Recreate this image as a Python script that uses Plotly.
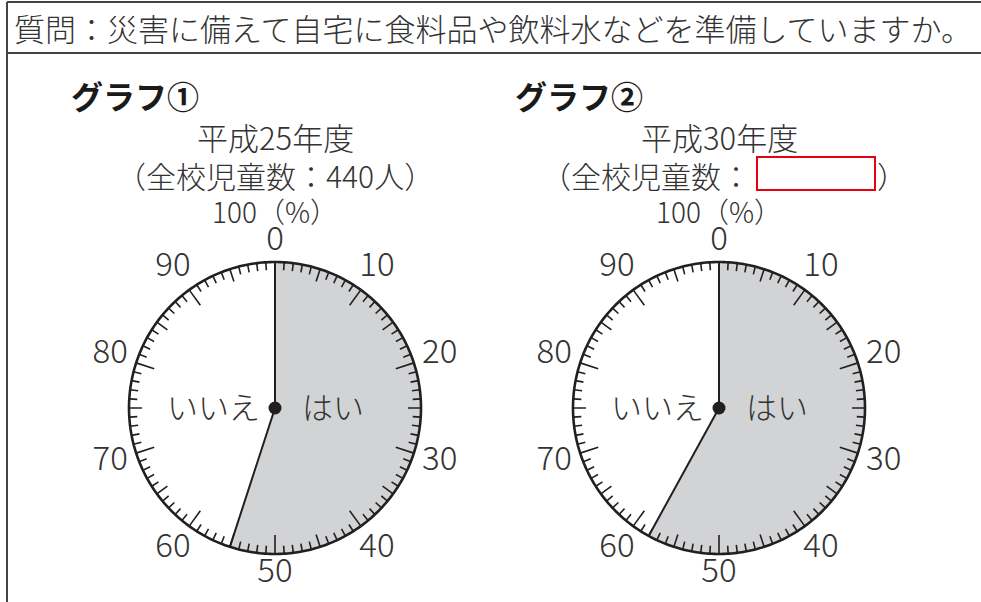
import numpy as np
import plotly.graph_objects as go

# ---- data ----
question = "質問：災害に備えて自宅に食料品や飲料水などを準備していますか。"
graph_titles = ["グラフ①", "グラフ②"]
year_labels = ["平成25年度", "平成30年度"]
student_counts = ["440人", ""]          # second one is the blank to fill in
yes_percent = [55, 58]                   # はい share (%)
slice_labels = ["はい", "いいえ"]
scale_values = list(range(0, 100, 10))
scale_labels = [str(v) for v in scale_values]
scale_top_label = "100（%）"

# ---- layout constants ----
W, H = 981, 602
R = 146
RMAX = 1.3
centers = [(275, 408), (719, 408)]
FONT = "Noto Sans CJK JP"
TXT = "#333333"
INK = "#231f20"
GRAY = "#d1d3d4"


def px(x):
    return x / W


def py(y):
    return 1 - y / H


fig = go.Figure()
annotations = []
shapes = []

for i, (cx, cy) in enumerate(centers):
    sp = "polar" if i == 0 else f"polar{i+1}"
    p = yes_percent[i]
    ang = p * 3.6
    # はい wedge
    fig.add_trace(go.Barpolar(r=[1], theta=[ang / 2], width=[ang], base=0,
                              marker=dict(color=GRAY, line=dict(width=0)),
                              subplot=sp, hoverinfo="skip", showlegend=False))
    # scale ticks
    tr, tt = [], []
    for k in range(100):
        L = 19 if k % 10 == 0 else (13 if k % 5 == 0 else 8)
        tr += [1, 1 - L / R, None]
        tt += [k * 3.6, k * 3.6, None]
    fig.add_trace(go.Scatterpolar(r=tr, theta=tt, mode="lines",
                                  line=dict(color=INK, width=1.6),
                                  subplot=sp, hoverinfo="skip", showlegend=False))
    # outer circle
    circ = np.linspace(0, 360, 361)
    fig.add_trace(go.Scatterpolar(r=np.ones_like(circ), theta=circ, mode="lines",
                                  line=dict(color=INK, width=2.6),
                                  subplot=sp, hoverinfo="skip", showlegend=False))
    # radius lines
    fig.add_trace(go.Scatterpolar(r=[1, 0, 1], theta=[0, 0, ang], mode="lines",
                                  line=dict(color=INK, width=2),
                                  subplot=sp, hoverinfo="skip", showlegend=False))
    # center dot
    fig.add_trace(go.Scatterpolar(r=[0], theta=[0], mode="markers",
                                  marker=dict(color=INK, size=13),
                                  subplot=sp, hoverinfo="skip", showlegend=False))
    # scale labels
    th = np.array(scale_values) * 3.6
    rr = 1 + (7 + 17 * np.abs(np.sin(np.radians(th))) + 13 * np.abs(np.cos(np.radians(th)))) / R
    fig.add_trace(go.Scatterpolar(r=rr, theta=th, mode="text", text=scale_labels,
                                  textfont=dict(family=FONT, size=33, color=TXT, weight=300),
                                  cliponaxis=False, subplot=sp,
                                  hoverinfo="skip", showlegend=False))
    Rout = R * RMAX
    fig.update_layout(**{sp: dict(
        domain=dict(x=[px(cx - Rout), px(cx + Rout)], y=[py(cy + Rout), py(cy - Rout)]),
        bgcolor="rgba(0,0,0,0)",
        angularaxis=dict(rotation=90, direction="clockwise", showline=False,
                         showgrid=False, ticks="", showticklabels=False,
                         thetaunit="degrees"),
        radialaxis=dict(visible=False, range=[0, RMAX]),
    )})

    def ann(text, x, y, size=30, xanchor="center", bold=False):
        annotations.append(dict(text=text, x=px(x), y=py(y), xref="paper", yref="paper",
                                xanchor=xanchor, yanchor="middle", showarrow=False,
                                font=dict(family=FONT, size=size,
                                          color="#1a1a1a" if bold else TXT,
                                          weight=700 if bold else 300)))

    ann(graph_titles[i], cx - 206, 95, size=32, xanchor="left", bold=True)
    ann(year_labels[i], cx, 136, size=31)
    if student_counts[i]:
        ann("（全校児童数：" + student_counts[i] + "）", cx, 175, size=30)
    else:
        ann("（全校児童数：", cx + 34, 175, size=30, xanchor="right")
        ann("）", cx + 156, 175, size=30, xanchor="left")
        shapes.append(dict(type="rect", xref="paper", yref="paper",
                           x0=px(cx + 38), x1=px(cx + 156), y0=py(190), y1=py(157),
                           line=dict(color="#e60012", width=2)))
    ann(scale_top_label, cx, 211, size=28)
    ann(slice_labels[1], cx - 62, 405, size=31)
    ann(slice_labels[0], cx + 58, 405, size=31)

annotations.append(dict(text=question, x=px(12), y=py(28), xref="paper", yref="paper",
                        xanchor="left", yanchor="middle", showarrow=False,
                        font=dict(family=FONT, size=31, color=TXT, weight=300)))

BORDER = "#444444"
shapes += [
    dict(type="line", xref="paper", yref="paper", x0=px(7), x1=px(7), y0=py(2), y1=py(602),
         line=dict(color=BORDER, width=2)),
    dict(type="line", xref="paper", yref="paper", x0=px(7), x1=px(981), y0=py(2), y1=py(2),
         line=dict(color=BORDER, width=2)),
    dict(type="line", xref="paper", yref="paper", x0=px(7), x1=px(981), y0=py(53), y1=py(53),
         line=dict(color=BORDER, width=2)),
]

fig.update_layout(width=W, height=H, margin=dict(l=0, r=0, t=0, b=0),
                  paper_bgcolor="white", plot_bgcolor="white",
                  annotations=annotations, shapes=shapes, showlegend=False)

fig.write_html("out.html", config={"displayModeBar": False},
               post_script="document.body.style.margin='0';")
